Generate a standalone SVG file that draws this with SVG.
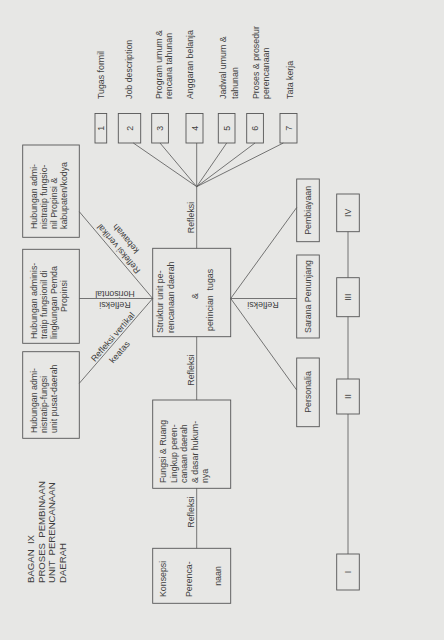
<svg xmlns="http://www.w3.org/2000/svg" width="444" height="640" viewBox="0 0 444 640">
<style>
.t{font-family:"Liberation Sans",Arial,sans-serif;font-size:8.8px;fill:#3f3f3f}
.ti{font-family:"Liberation Sans",Arial,sans-serif;font-size:9.6px;fill:#3f3f3f}
.m{text-anchor:middle}
.b{fill:none;stroke:#555;stroke-width:0.9}
.c{fill:none;stroke:#555;stroke-width:0.8}
</style>
<rect x="0" y="0" width="444" height="640" fill="#e7e7e5"/>

<g id="title">
<text class="ti" transform="translate(34,583) rotate(-90)" xml:space="preserve">BAGAN  IX</text>
<text class="ti" transform="translate(44.5,583) rotate(-90)" xml:space="preserve">PROSES  PEMBINAAN</text>
<text class="ti" transform="translate(55,583) rotate(-90)" xml:space="preserve">UNIT  PERENCANAAN</text>
<text class="ti" transform="translate(65.5,583) rotate(-90)">DAERAH</text>
</g>

<g id="connectors">
<line class="c" x1="196.7" y1="186.7" x2="133.3" y2="143"/>
<line class="c" x1="196.7" y1="186.7" x2="160" y2="143"/>
<line class="c" x1="196.7" y1="186.7" x2="196.7" y2="143"/>
<line class="c" x1="196.7" y1="186.7" x2="226.7" y2="143"/>
<line class="c" x1="196.7" y1="186.7" x2="255" y2="143"/>
<line class="c" x1="196.7" y1="186.7" x2="283.3" y2="143"/>
<line class="c" x1="196.7" y1="186.7" x2="196.7" y2="248.3"/>
<line class="c" x1="196.7" y1="336.7" x2="196.7" y2="400"/>
<line class="c" x1="196.7" y1="488.3" x2="196.7" y2="548.3"/>
<line class="c" x1="79.3" y1="211.7" x2="152.7" y2="298.5"/>
<line class="c" x1="79.3" y1="298.5" x2="152.7" y2="298.5"/>
<line class="c" x1="79.3" y1="383.3" x2="152.7" y2="298.5"/>
<line class="c" x1="230.7" y1="298.5" x2="296.7" y2="207.5"/>
<line class="c" x1="230.7" y1="298.5" x2="296.7" y2="298.5"/>
<line class="c" x1="230.7" y1="298.5" x2="296.7" y2="390"/>
<line class="c" x1="348" y1="231.7" x2="348" y2="277.7"/>
<line class="c" x1="348" y1="316.7" x2="348" y2="379"/>
<line class="c" x1="348" y1="414" x2="348" y2="554"/>
<text class="t m" transform="translate(193.5,217.5) rotate(-90)">Refleksi</text>
<text class="t m" transform="translate(193.5,370) rotate(-90)">Refleksi</text>
<text class="t m" transform="translate(193.5,512) rotate(-90)">Refleksi</text>
<text class="t m" transform="translate(115,291) rotate(180)">Horisontal</text>
<text class="t m" transform="translate(115,301.5) rotate(180)">Refleksi</text>
<text class="t m" transform="translate(263,301.5) rotate(180)">Refleksi</text>
<text class="t m" transform="translate(115.1,338.9) rotate(-49.1)">Refleksi  vertikal</text>
<text class="t m" transform="translate(121.8,354) rotate(-49.1)">keatas</text>
<text class="t m" transform="translate(120.8,246.9) rotate(-130.25)">Refleksi  vertikal</text>
<text class="t m" transform="translate(128,236.8) rotate(-130.25)">kebawah</text>
</g>

<g id="label-tugas">
<text class="t" transform="translate(103.7,99) rotate(-90)">Tugas formil</text>
<text class="t" transform="translate(132.3,99) rotate(-90)">Job description</text>
<text class="t" transform="translate(162,99) rotate(-90)">Program umum &amp;</text>
<text class="t" transform="translate(172,99) rotate(-90)">rencana tahunan</text>
<text class="t" transform="translate(193,99) rotate(-90)">Anggaran belanja</text>
<text class="t" transform="translate(226.3,99) rotate(-90)">Jadwal umum &amp;</text>
<text class="t" transform="translate(237.5,99) rotate(-90)">tahunan</text>
<text class="t" transform="translate(258.5,99) rotate(-90)">Proses &amp; prosedur</text>
<text class="t" transform="translate(269,99) rotate(-90)">perencanaan</text>
<text class="t" transform="translate(293,99) rotate(-90)">Tata kerja</text>
</g>

<g id="n1"><rect class="b" x="95" y="113.5" width="11.7" height="29.5"/><text class="t m" transform="translate(104,128.3) rotate(-90)">1</text></g>
<g id="n2"><rect class="b" x="118.3" y="113.5" width="22.4" height="29.5"/><text class="t m" transform="translate(132.7,128.3) rotate(-90)">2</text></g>
<g id="n3"><rect class="b" x="151.7" y="113.5" width="16.7" height="29.5"/><text class="t m" transform="translate(163.2,128.3) rotate(-90)">3</text></g>
<g id="n4"><rect class="b" x="186" y="113.5" width="17" height="29.5"/><text class="t m" transform="translate(197.7,128.3) rotate(-90)">4</text></g>
<g id="n5"><rect class="b" x="218.3" y="113.5" width="16.7" height="29.5"/><text class="t m" transform="translate(229.8,128.3) rotate(-90)">5</text></g>
<g id="n6"><rect class="b" x="246.7" y="113.5" width="16.7" height="29.5"/><text class="t m" transform="translate(258.2,128.3) rotate(-90)">6</text></g>
<g id="n7"><rect class="b" x="280" y="113.5" width="17" height="29.5"/><text class="t m" transform="translate(291.7,128.3) rotate(-90)">7</text></g>

<g id="hub-kabupaten">
<rect class="b" x="22.7" y="145" width="56.6" height="92.3"/>
<text class="t" transform="translate(37,229) rotate(-90)">Hubungan admi-</text>
<text class="t" transform="translate(47,229) rotate(-90)">nistratip fungsio-</text>
<text class="t" transform="translate(57,229) rotate(-90)">nil Propinsi &amp;</text>
<text class="t" transform="translate(67,229) rotate(-90)">kabupaten/kodya</text>
</g>
<g id="hub-propinsi">
<rect class="b" x="22.7" y="249.3" width="56.6" height="94"/>
<text class="t" transform="translate(37,339) rotate(-90)">Hubungan adminis-</text>
<text class="t" transform="translate(47,339) rotate(-90)">tratip fungsionil di</text>
<text class="t" transform="translate(57,339) rotate(-90)">lingkungan Pemda</text>
<text class="t m" transform="translate(67,296) rotate(-90)">Propinsi</text>
</g>
<g id="hub-pusat">
<rect class="b" x="22.7" y="351.7" width="56.6" height="86.6"/>
<text class="t" transform="translate(37,433) rotate(-90)">Hubungan admi-</text>
<text class="t" transform="translate(47,433) rotate(-90)">nistratip-fungsi</text>
<text class="t" transform="translate(57,433) rotate(-90)">unit pusat-daerah</text>
</g>

<g id="struktur">
<rect class="b" x="152.7" y="248.3" width="78" height="88.4"/>
<text class="t" transform="translate(163,333) rotate(-90)">Struktur unit pe-</text>
<text class="t" transform="translate(173.5,333) rotate(-90)">rencanaan daerah</text>
<text class="t m" transform="translate(198,296) rotate(-90)">&amp;</text>
<text class="t" transform="translate(213,331) rotate(-90)" xml:space="preserve">perincian  tugas</text>
</g>
<g id="fungsi">
<rect class="b" x="152.7" y="400" width="78" height="88.3"/>
<text class="t" transform="translate(166,483) rotate(-90)">Fungsi &amp; Ruang</text>
<text class="t" transform="translate(176.5,483) rotate(-90)">Lingkup peren-</text>
<text class="t" transform="translate(187,483) rotate(-90)">canaan daerah</text>
<text class="t" transform="translate(197.5,483) rotate(-90)">&amp; dasar hukum-</text>
<text class="t" transform="translate(208,483) rotate(-90)">nya</text>
</g>
<g id="konsepsi">
<rect class="b" x="152.7" y="548.3" width="78" height="55"/>
<text class="t" transform="translate(166,597) rotate(-90)">Konsepsi</text>
<text class="t" transform="translate(192,597) rotate(-90)">Perenca-</text>
<text class="t m" transform="translate(221,576) rotate(-90)">naan</text>
</g>

<g id="pembiayaan"><rect class="b" x="296.7" y="179" width="22.6" height="62.7"/><text class="t m" transform="translate(311,210.3) rotate(-90)">Pembiayaan</text></g>
<g id="sarana"><rect class="b" x="296.7" y="255" width="22.6" height="83"/><text class="t m" transform="translate(311,296.5) rotate(-90)">Sarana Penunjang</text></g>
<g id="personalia"><rect class="b" x="296.7" y="358" width="22.6" height="68.7"/><text class="t m" transform="translate(311,392) rotate(-90)">Personalia</text></g>

<g id="r4"><rect class="b" x="336.7" y="194" width="22.6" height="37.7"/><text class="t m" transform="translate(351,212.8) rotate(-90)">IV</text></g>
<g id="r3"><rect class="b" x="336.7" y="277.7" width="22.6" height="39"/><text class="t m" transform="translate(351,297.2) rotate(-90)">III</text></g>
<g id="r2"><rect class="b" x="336.7" y="379" width="22.6" height="35"/><text class="t m" transform="translate(351,396.5) rotate(-90)">II</text></g>
<g id="r1"><rect class="b" x="336.7" y="554" width="22.6" height="36"/><text class="t m" transform="translate(351,572) rotate(-90)">I</text></g>
</svg>
